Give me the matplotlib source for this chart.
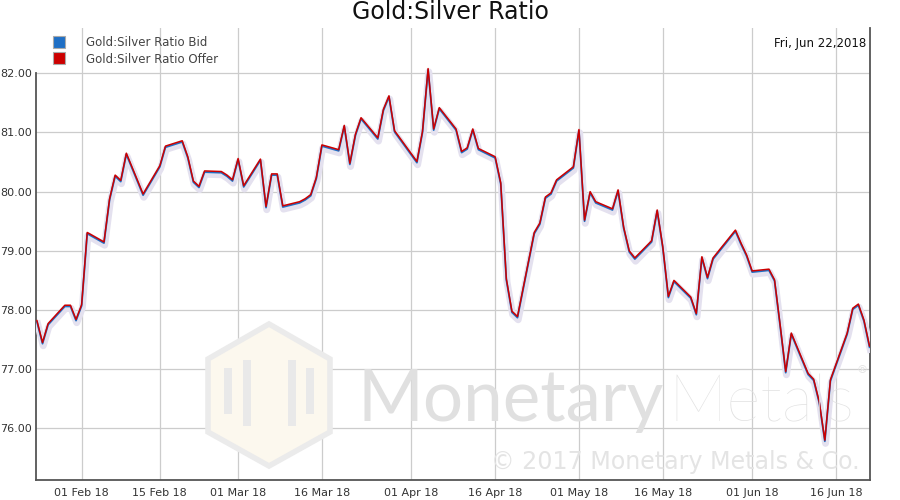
import matplotlib
matplotlib.use("Agg")
import matplotlib.pyplot as plt
import matplotlib.dates as mdates
import matplotlib.patheffects as pe
from matplotlib.lines import Line2D
from matplotlib.patches import Polygon, Rectangle
import pandas as pd

# trading days, Jan 24 - Jun 22 2018 (weekdays only, holidays skipped)
dates = [
    "2018-01-24", "2018-01-25", "2018-01-26", "2018-01-29", "2018-01-30", "2018-01-31",
    "2018-02-01", "2018-02-02", "2018-02-05", "2018-02-06", "2018-02-07", "2018-02-08",
    "2018-02-09", "2018-02-12", "2018-02-13", "2018-02-14", "2018-02-15", "2018-02-16",
    "2018-02-19", "2018-02-20", "2018-02-21", "2018-02-22", "2018-02-23", "2018-02-26",
    "2018-02-27", "2018-02-28", "2018-03-01", "2018-03-02", "2018-03-05", "2018-03-06",
    "2018-03-07", "2018-03-08", "2018-03-09", "2018-03-12", "2018-03-13", "2018-03-14",
    "2018-03-15", "2018-03-16", "2018-03-19", "2018-03-20", "2018-03-21", "2018-03-22",
    "2018-03-23", "2018-03-26", "2018-03-27", "2018-03-28", "2018-03-29", "2018-04-02",
    "2018-04-03", "2018-04-04", "2018-04-05", "2018-04-06", "2018-04-09", "2018-04-10",
    "2018-04-11", "2018-04-12", "2018-04-13", "2018-04-16", "2018-04-17", "2018-04-18",
    "2018-04-19", "2018-04-20", "2018-04-23", "2018-04-24", "2018-04-25", "2018-04-26",
    "2018-04-27", "2018-04-30", "2018-05-01", "2018-05-02", "2018-05-03", "2018-05-04",
    "2018-05-07", "2018-05-08", "2018-05-09", "2018-05-10", "2018-05-11", "2018-05-14",
    "2018-05-15", "2018-05-16", "2018-05-17", "2018-05-18", "2018-05-21", "2018-05-22",
    "2018-05-23", "2018-05-24", "2018-05-25", "2018-05-29", "2018-05-30", "2018-05-31",
    "2018-06-01", "2018-06-04", "2018-06-05", "2018-06-06", "2018-06-07", "2018-06-08",
    "2018-06-11", "2018-06-12", "2018-06-13", "2018-06-14", "2018-06-15", "2018-06-18",
    "2018-06-19", "2018-06-20", "2018-06-21", "2018-06-22",
]

offer = [
    77.82, 77.45, 77.77, 78.08, 78.08, 77.84,
    78.09, 79.31, 79.15, 79.88, 80.28, 80.19,
    80.65, 79.96, 80.12, 80.28, 80.44, 80.77,
    80.86, 80.59, 80.18, 80.09, 80.35, 80.34,
    80.28, 80.20, 80.56, 80.10, 80.55, 79.75,
    80.30, 80.30, 79.76, 79.83, 79.88, 79.95,
    80.24, 80.79, 80.71, 81.12, 80.48, 80.97,
    81.25, 80.91, 81.39, 81.62, 81.03, 80.51,
    81.02, 82.08, 81.06, 81.42, 81.06, 80.68,
    80.74, 81.06, 80.73, 80.59, 80.15, 78.53,
    77.98, 77.89, 79.31, 79.47, 79.91, 79.98,
    80.20, 80.42, 81.05, 79.52, 80.00, 79.83,
    79.71, 80.03, 79.40, 79.00, 78.88, 79.17,
    79.69, 79.07, 78.23, 78.50, 78.22, 77.94,
    78.90, 78.55, 78.88, 79.35, 79.13, 78.93,
    78.66, 78.69, 78.51, 77.75, 76.96, 77.61,
    76.93, 76.83, 76.45, 75.80, 76.82, 77.61,
    78.03, 78.10, 77.83, 77.39,
]

bid = [
    77.80, 77.43, 77.75, 78.06, 78.06, 77.82,
    78.07, 79.29, 79.13, 79.86, 80.26, 80.17,
    80.63, 79.94, 80.10, 80.26, 80.42, 80.75,
    80.84, 80.57, 80.16, 80.07, 80.33, 80.32,
    80.26, 80.18, 80.54, 80.08, 80.53, 79.73,
    80.28, 80.28, 79.74, 79.81, 79.86, 79.93,
    80.22, 80.77, 80.69, 81.10, 80.46, 80.95,
    81.23, 80.89, 81.37, 81.60, 81.01, 80.49,
    81.00, 82.06, 81.04, 81.40, 81.04, 80.66,
    80.72, 81.04, 80.71, 80.57, 80.13, 78.51,
    77.96, 77.87, 79.29, 79.45, 79.89, 79.96,
    80.18, 80.40, 81.03, 79.50, 79.98, 79.81,
    79.69, 80.01, 79.38, 78.98, 78.86, 79.15,
    79.67, 79.05, 78.21, 78.48, 78.20, 77.92,
    78.88, 78.53, 78.86, 79.33, 79.11, 78.91,
    78.64, 78.67, 78.49, 77.73, 76.94, 77.59,
    76.91, 76.81, 76.43, 75.78, 76.80, 77.59,
    78.01, 78.08, 77.81, 77.37,
]

tick_dates = ["2018-02-01", "2018-02-15", "2018-03-01", "2018-03-16", "2018-04-01",
              "2018-04-16", "2018-05-01", "2018-05-16", "2018-06-01", "2018-06-16"]
y_ticks = [76, 77, 78, 79, 80, 81, 82]

BLUE = "#1f6fc5"
RED = "#cc0000"


def fit_text(fig, txt, width_px):
    # shrink/grow a text so it spans width_px pixels
    r = fig.canvas.get_renderer()
    w = txt.get_window_extent(r).width
    txt.set_fontsize(txt.get_fontsize() * width_px / w)


def draw_watermark(fig):
    # hexagon logo
    hexagon = [(269, 324), (330, 359), (330, 432), (269, 466), (208, 432), (208, 359)]
    pts = [(px / 900, 1 - py / 500) for px, py in hexagon]
    fig.patches.append(Polygon(pts, closed=True, facecolor="#fcf8ee", edgecolor="#ebebeb",
                               lw=4, transform=fig.transFigure, zorder=0.2))
    for bx, by, bw, bh in [(224, 368, 8, 46), (243, 360, 8, 66), (288, 360, 8, 66), (306, 368, 8, 46)]:
        fig.patches.append(Rectangle((bx / 900, 1 - (by + bh) / 500), bw / 900, bh / 500,
                                     facecolor="#e9e9e9", edgecolor="none",
                                     transform=fig.transFigure, zorder=0.3))
    t1 = fig.text(357 / 900, 1 - 421 / 500, "Monetary", fontsize=54, family="Lato",
                  color="#e0e0e0", zorder=0.3)
    t2 = fig.text(668 / 900, 1 - 421 / 500, "Metals", fontsize=54, family="Lato",
                  weight="light", color="#e1e1e1", zorder=0.3)
    fit_text(fig, t1, 306)
    fit_text(fig, t2, 186)
    fig.text(862 / 900, 1 - 370 / 500, "®", fontsize=8, color="#e3e3e3",
             ha="center", va="center", zorder=0.3)
    t3 = fig.text(860 / 900, 1 - 462 / 500, "© 2017 Monetary Metals & Co.", fontsize=17,
                  family="DejaVu Sans", color="#e4e4e4", ha="right", va="center", zorder=0.3)
    fit_text(fig, t3, 370)


def plot_ratio():
    x = pd.to_datetime(dates)
    fig = plt.figure(figsize=(9, 5), dpi=100)
    ax = fig.add_axes([36 / 900, 20 / 500, 834 / 900, 452 / 500])
    ax.patch.set_alpha(0)

    glow = [pe.Stroke(linewidth=5, foreground="#e4e1ef", offset=(0.5, -1.5)), pe.Normal()]
    ax.plot(x, bid, color=BLUE, lw=1.3, zorder=3, path_effects=glow)
    ax.plot(x, offer, color=RED, lw=1.1, zorder=4)

    ax.set_ylim(75.126, 82.766)
    ax.set_xlim(pd.Timestamp("2018-01-23 20:00"), pd.Timestamp("2018-06-22 02:00"))
    ax.set_yticks(y_ticks)
    ax.yaxis.set_major_formatter(plt.FormatStrFormatter("%.2f"))
    ax.set_xticks(pd.to_datetime(tick_dates))
    ax.xaxis.set_major_formatter(mdates.DateFormatter("%d %b %y"))
    ax.tick_params(length=0, labelsize=8, labelcolor="#333333")
    ax.tick_params(axis="y", pad=3)
    ax.tick_params(axis="x", pad=6)
    ax.grid(True, color="#cccccc", lw=0.9, zorder=1)

    ax.spines["top"].set_visible(False)
    for side in ["left", "bottom", "right"]:
        ax.spines[side].set_color("#555555")
        ax.spines[side].set_linewidth(1.3)
    ax.spines["left"].set_bounds(75.126, 82.0)

    handles = [
        Line2D([], [], marker="s", ls="none", markersize=9, markerfacecolor=BLUE,
               markeredgecolor="#aaaaaa", markeredgewidth=0.8),
        Line2D([], [], marker="s", ls="none", markersize=9, markerfacecolor=RED,
               markeredgecolor="#aaaaaa", markeredgewidth=0.8),
    ]
    leg = ax.legend(handles, ["Gold:Silver Ratio Bid", "Gold:Silver Ratio Offer"],
                    loc="upper left", bbox_to_anchor=(53 / 900, 1 - 36 / 500),
                    bbox_transform=fig.transFigure, frameon=False, fontsize=8.5,
                    handlelength=1.0, handletextpad=1.8, labelspacing=0.3,
                    borderpad=0, borderaxespad=0)
    for t in leg.get_texts():
        t.set_color("#444444")

    fig.text(866 / 900, 1 - 44 / 500, "Fri, Jun 22,2018", fontsize=8.5, color="#111111",
             ha="right", va="center")
    fig.text(0.5, 1 - 12 / 500, "Gold:Silver Ratio", fontsize=17, color="#111111",
             ha="center", va="center")

    draw_watermark(fig)
    return fig


def main():
    fig = plot_ratio()
    fig.savefig("out.png", dpi=100)


if __name__ == "__main__":
    main()
